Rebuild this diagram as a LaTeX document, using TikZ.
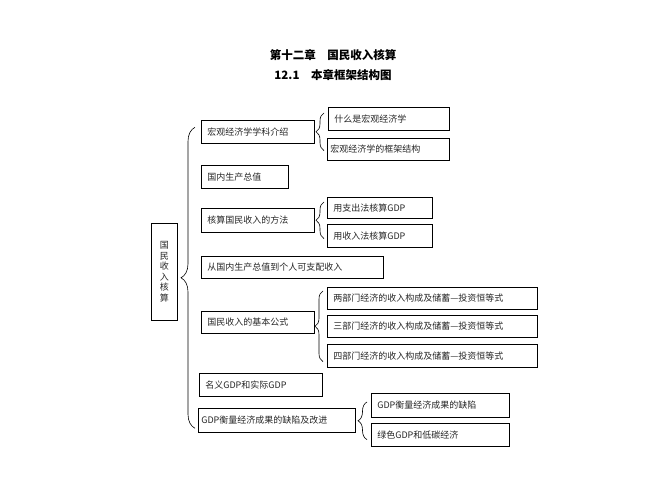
\documentclass[tikz,border=0pt]{standalone}
\usepackage{fontspec}
\setmainfont{Noto Sans CJK SC}
\usetikzlibrary{decorations.pathreplacing,shadows,calc}
\begin{document}
\begin{tikzpicture}[x=1pt,y=-1pt,
  bx/.style={draw, line width=0.6pt, fill=white, anchor=north west, inner xsep=6pt, inner ysep=0pt,
    align=left, font=\fontsize{9}{11}\selectfont, text=black!85,
    drop shadow={shadow xshift=0.8pt, shadow yshift=-0.8pt, fill=black, opacity=1}},
  brc/.style={decorate, line width=0.6pt},
  ttl/.style={font=\fontsize{11.5}{14}\selectfont\bfseries}]
\useasboundingbox (0,0) rectangle (667,500);
\node[ttl] (t1) at (333,55) {第十二章\quad 国民收入核算};
\node[ttl] (t2) at (333,75) {12.1\quad 本章框架结构图};
% root
\node[bx, align=center, inner xsep=0pt, text width=26pt, minimum height=97pt,
  font=\fontsize{9}{10.6}\selectfont] (root) at (151,223) {国\\民\\收\\入\\核\\算};
% level 1
\node[bx, text width=101pt, minimum height=23pt] (b1) at (201,120) {宏观经济学学科介绍};
\node[bx, text width=75pt,  minimum height=23pt] (b2) at (201,165) {国内生产总值};
\node[bx, text width=101pt, minimum height=24pt] (b3) at (201,208) {核算国民收入的方法};
\node[bx, text width=170pt, minimum height=22pt] (b4) at (201,256) {从国内生产总值到个人可支配收入};
\node[bx, text width=101pt, minimum height=22pt] (b5) at (201,311) {国民收入的基本公式};
\node[bx, text width=111pt, minimum height=23pt] (b6) at (199,373) {名义GDP和实际GDP};
\node[bx, minimum height=24pt, inner xsep=3pt, text width=151pt] (b7) at (198,408) {GDP衡量经济成果的缺陷及改进};
% level 2
\node[bx, text width=109pt, minimum height=23pt] (c11) at (328,107) {什么是宏观经济学};
\node[bx, minimum height=22pt, inner xsep=3pt, text width=116pt] (c12) at (327,138) {宏观经济学的框架结构};
\node[bx, text width=93pt,  minimum height=21pt] (c31) at (327,197) {用支出法核算GDP};
\node[bx, text width=93pt,  minimum height=23pt] (c32) at (327,224) {用收入法核算GDP};
\node[bx, text width=198pt, minimum height=22pt] (c51) at (327,287) {两部门经济的收入构成及储蓄—投资恒等式};
\node[bx, text width=198pt, minimum height=22pt] (c52) at (327,315) {三部门经济的收入构成及储蓄—投资恒等式};
\node[bx, text width=198pt, minimum height=23pt] (c53) at (327,344) {四部门经济的收入构成及储蓄—投资恒等式};
\node[bx, text width=126pt, minimum height=24pt] (c71) at (371,393) {GDP衡量经济成果的缺陷};
\node[bx, text width=126pt, minimum height=23pt] (c72) at (371,423) {绿色GDP和低碳经济};
% braces
\draw[brc, decoration={brace, amplitude=14pt}]
  ($(b7.west)+(-3,8)$) -- ($(b1.west)+(-6,-4.5)$);
\draw[brc, decoration={brace, amplitude=8pt}]
  ($(c12.south west)+(-3,-10)$) -- ($(c11.north west)+(-4,6)$);
\draw[brc, decoration={brace, amplitude=8pt}]
  ($(c32.south west)+(-3,-9)$) -- ($(c31.north west)+(-3,5)$);
\draw[brc, decoration={brace, amplitude=8pt}]
  ($(c53.south west)+(-4,-6)$) -- ($(c51.north west)+(-4,4)$);
\draw[brc, decoration={brace, amplitude=9pt}]
  ($(c72.south west)+(-4,-7)$) -- ($(c71.north west)+(-4,9)$);
\end{tikzpicture}
\end{document}
